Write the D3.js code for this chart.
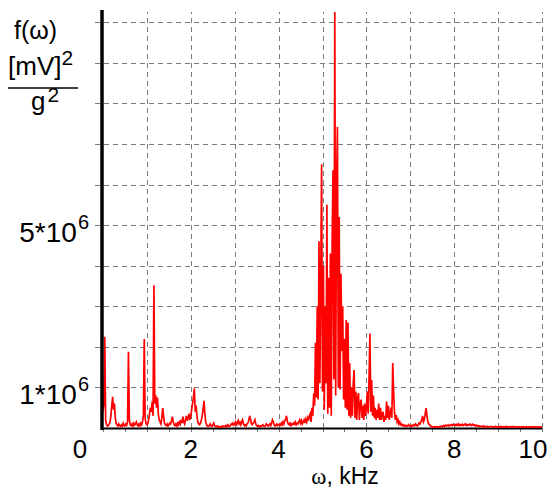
<!DOCTYPE html>
<html>
<head>
<meta charset="utf-8">
<script src="https://cdn.jsdelivr.net/npm/d3@7"></script>
<style>
  html, body { margin: 0; padding: 0; background: #fff; }
  svg { display: block; }
  text { font-family: "Liberation Sans", Arial, sans-serif; fill: #000; }
</style>
</head>
<body>
<svg id="chart" width="548" height="490"></svg>
<script>
// Vibration spectrum f(ω), sampled every 0.02 kHz from 0 to 10 kHz.
// Values are in units of 10^6 [mV]^2/g^2.
const freqStepKHz = 0.02;
const psdMillions = [
  0.4,0.6,2.25,0.2,0.08,0.05,0.06,0.1,0.15,0.3,
  0.55,0.77,0.45,0.6,0.25,0.12,0.08,0.05,0.1,0.06,
  0.04,0.08,0.05,0.12,0.06,0.05,0.1,0.07,0.15,1.88,
  0.2,0.08,0.06,0.1,0.05,0.12,0.07,0.1,0.15,0.08,
  0.05,0.1,0.06,0.12,0.08,0.15,0.3,2.19,0.25,0.1,
  0.08,0.12,0.2,0.35,0.5,0.4,0.65,0.3,3.52,0.6,
  0.81,0.5,0.75,0.35,0.2,0.15,0.1,0.25,0.49,0.3,
  0.12,0.08,0.06,0.1,0.05,0.08,0.12,0.1,0.18,0.28,
  0.15,0.08,0.06,0.1,0.05,0.12,0.08,0.15,0.1,0.2,
  0.12,0.28,0.15,0.1,0.2,0.3,0.18,0.25,0.35,0.2,
  0.3,0.45,0.6,0.75,0.98,0.4,0.55,0.3,0.15,0.1,
  0.08,0.12,0.2,0.3,0.45,0.67,0.35,0.15,0.08,0.05,
  0.04,0.06,0.1,0.05,0.04,0.08,0.12,0.06,0.04,0.03,
  0.05,0.03,0.04,0.03,0.02,0.04,0.03,0.05,0.04,0.03,
  0.06,0.04,0.08,0.05,0.04,0.06,0.1,0.08,0.12,0.07,
  0.1,0.15,0.08,0.12,0.18,0.1,0.14,0.08,0.15,0.2,
  0.1,0.06,0.08,0.05,0.1,0.12,0.18,0.3,0.22,0.1,
  0.08,0.12,0.15,0.2,0.1,0.06,0.04,0.06,0.03,0.05,
  0.04,0.06,0.08,0.05,0.04,0.06,0.1,0.07,0.05,0.08,
  0.1,0.06,0.12,0.2,0.15,0.08,0.05,0.07,0.1,0.06,
  0.08,0.1,0.07,0.12,0.08,0.15,0.1,0.18,0.22,0.3,
  0.15,0.1,0.08,0.12,0.06,0.1,0.08,0.12,0.1,0.15,
  0.08,0.12,0.1,0.15,0.2,0.12,0.18,0.1,0.15,0.2,
  0.12,0.22,0.15,0.25,0.18,0.3,0.35,0.15,0.5,0.3,
  0.85,0.55,2.1,0.75,3.0,0.7,4.6,1.1,3.6,6.5,
  0.9,4.0,0.45,3.0,1.1,5.5,0.35,3.7,0.5,4.3,
  0.3,4.6,6.35,1.2,10.25,0.8,5.9,7.42,1.0,5.2,
  0.95,3.8,1.9,3.0,0.7,2.2,0.5,2.66,0.45,2.6,
  0.3,1.6,0.25,1.0,0.3,1.1,1.43,0.25,0.9,0.2,
  0.75,0.86,0.2,0.6,0.7,0.25,0.55,0.2,0.6,0.3,
  0.5,0.9,0.35,1.2,2.33,0.4,1.18,0.3,0.8,0.25,
  0.5,0.2,0.45,0.25,0.6,0.2,0.5,0.2,0.35,0.4,
  0.15,0.3,0.2,0.65,0.25,0.55,0.2,0.35,0.5,0.25,
  1.6,0.9,0.4,0.2,0.32,0.15,0.2,0.1,0.15,0.08,
  0.1,0.06,0.08,0.05,0.07,0.04,0.06,0.05,0.08,0.05,
  0.06,0.04,0.07,0.05,0.08,0.06,0.1,0.07,0.05,0.08,
  0.12,0.1,0.15,0.2,0.3,0.15,0.2,0.35,0.49,0.3,
  0.15,0.1,0.08,0.05,0.04,0.03,0.02,0.03,0.02,0.03,
  0.02,0.03,0.02,0.03,0.04,0.03,0.05,0.04,0.06,0.04,
  0.07,0.05,0.06,0.08,0.05,0.07,0.06,0.08,0.06,0.09,
  0.07,0.08,0.06,0.09,0.07,0.1,0.06,0.08,0.07,0.09,
  0.06,0.08,0.1,0.07,0.09,0.06,0.08,0.07,0.1,0.08,
  0.06,0.09,0.07,0.08,0.05,0.07,0.05,0.06,0.04,0.05,
  0.04,0.04,0.03,0.05,0.03,0.04,0.02,0.03,0.04,0.03,
  0.02,0.03,0.04,0.03,0.02,0.03,0.03,0.04,0.02,0.03,
  0.02,0.03,0.02,0.04,0.03,0.02,0.03,0.02,0.03,0.04,
  0.02,0.03,0.02,0.03,0.02,0.03,0.04,0.03,0.02,0.03,
  0.02,0.02,0.03,0.02,0.03,0.02,0.02,0.03,0.02,0.03,
  0.02,0.02,0.03,0.02,0.02,0.03,0.02,0.02,0.03,0.02,
  0.02,0.02,0.03,0.02,0.02,0.03,0.02,0.02,0.03,0.02,
  0.02
];
const UNIT = 1e6;

// Axis ticks
const xTickLabels = [0, 2, 4, 6, 8, 10];
const xGridKHz = [1, 2, 3, 4, 5, 6, 7, 8, 9, 10];
const yGridValues = [1, 2, 3, 4, 5, 6, 7, 8, 9, 10].map(v => v * UNIT);
const yTickLabels = [{ value: 1 * UNIT, mant: "1*10", exp: "6" },
                     { value: 5 * UNIT, mant: "5*10", exp: "6" }];

const svg = d3.select("#chart");

const x = d3.scaleLinear().domain([0, 10]).range([103, 542]);
const y = d3.scaleLinear().domain([0, 1.03e7]).range([428, 10]);

const series = psdMillions.map((v, i) => ({ f: i * freqStepKHz, v: v * UNIT }));

// dashed grid
const grid = svg.append("g")
  .attr("stroke", "#7a7a7a")
  .attr("stroke-width", 1)
  .attr("stroke-dasharray", "5,4");

grid.selectAll("line.h").data(yGridValues).join("line")
  .attr("class", "h")
  .attr("x1", 95).attr("x2", x(10))
  .attr("y1", d => Math.round(y(d)) + 0.5)
  .attr("y2", d => Math.round(y(d)) + 0.5);

grid.selectAll("line.v").data(xGridKHz).join("line")
  .attr("class", "v")
  .attr("x1", d => Math.round(x(d)) + 0.5)
  .attr("x2", d => Math.round(x(d)) + 0.5)
  .attr("y1", y(0)).attr("y2", y.range()[1] + 2);

// minor ticks under the frequency axis
svg.append("g").selectAll("line").data(d3.range(0, 10.01, 0.5)).join("line")
  .attr("x1", d => Math.round(x(d)) + 0.5)
  .attr("x2", d => Math.round(x(d)) + 0.5)
  .attr("y1", y(0)).attr("y2", y(0) + 4)
  .attr("stroke", "#777").attr("stroke-width", 1);

// frequency axis line
svg.append("line")
  .attr("x1", x(0) - 2).attr("x2", x(10))
  .attr("y1", y(0) + 0.5).attr("y2", y(0) + 0.5)
  .attr("stroke", "#000").attr("stroke-width", 2);

// spectrum trace
const line = d3.line().x(d => x(d.f)).y(d => y(d.v));
svg.append("path")
  .datum(series)
  .attr("d", line)
  .attr("fill", "none")
  .attr("stroke", "#ff0000")
  .attr("stroke-width", 1.7)
  .attr("stroke-linejoin", "miter");

// amplitude axis line
svg.append("line")
  .attr("x1", x(0) - 1).attr("x2", x(0) - 1)
  .attr("y1", y.range()[1]).attr("y2", y(0) + 2)
  .attr("stroke", "#000").attr("stroke-width", 3.5);

// frequency tick labels
svg.append("g").selectAll("text").data(xTickLabels).join("text")
  .attr("x", d => x(d) + (d === 0 ? -23 : d === 10 ? -9 : 0))
  .attr("y", 458)
  .attr("text-anchor", "middle")
  .attr("font-size", 26)
  .text(d => d);

// amplitude tick labels with superscript exponent
const yl = svg.append("g").selectAll("text").data(yTickLabels).join("text")
  .attr("x", 89)
  .attr("y", d => y(d.value) + 17)
  .attr("text-anchor", "end")
  .attr("font-size", 28);
yl.append("tspan").text(d => d.mant);
yl.append("tspan").attr("dy", -13).attr("dx", 1).attr("font-size", 20).text(d => d.exp);

// axis titles
svg.append("text")
  .attr("x", 14).attr("y", 39)
  .attr("font-size", 25)
  .text("f(ω)");

const num = svg.append("text").attr("x", 8).attr("y", 75).attr("font-size", 26);
num.append("tspan").text("[mV]");
num.append("tspan").attr("dy", -10).attr("font-size", 21).text("2");

svg.append("line")
  .attr("x1", 8).attr("x2", 78).attr("y1", 88).attr("y2", 88)
  .attr("stroke", "#000").attr("stroke-width", 1.6);

const den = svg.append("text").attr("x", 31).attr("y", 110).attr("font-size", 26);
den.append("tspan").text("g");
den.append("tspan").attr("dy", -8).attr("dx", 2).attr("font-size", 21).text("2");

const xt = svg.append("text")
  .attr("x", 345).attr("y", 484)
  .attr("text-anchor", "middle")
  .attr("font-size", 23);
xt.append("tspan").attr("font-family", "'Liberation Serif', 'Times New Roman', serif").text("ω");
xt.append("tspan").text(", kHz");
</script>
</body>
</html>
